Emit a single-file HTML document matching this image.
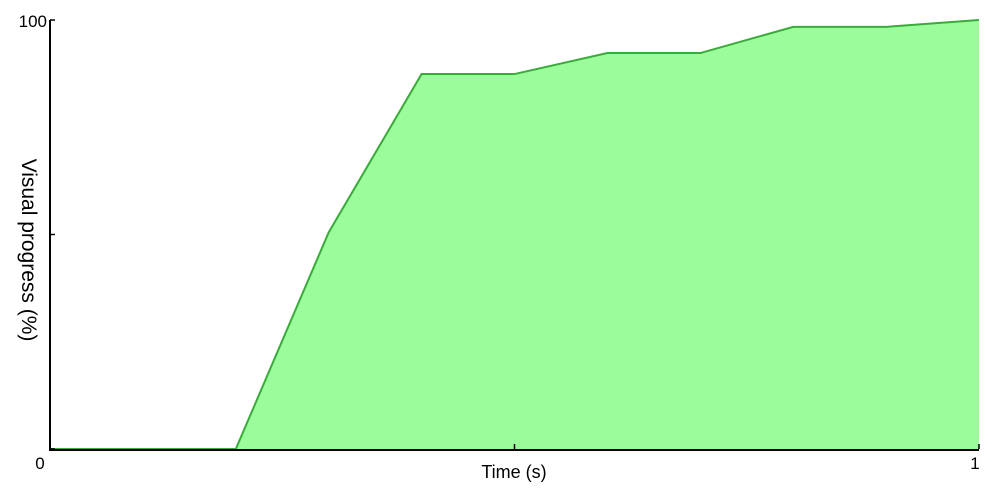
<!DOCTYPE html>
<html><head><meta charset="utf-8"><style>
html,body{margin:0;padding:0;background:#fff;}
svg{display:block;font-family:"Liberation Sans",sans-serif;}
</style></head><body>
<svg width="995" height="493">
<g id="plot"></g>
</svg>
<script>
const times = [0, 0.1, 0.2, 0.3, 0.4, 0.5, 0.6, 0.7, 0.8, 0.9, 1.0];
const progress = [0, 0, 0, 50.5, 87.4, 87.4, 92.3, 92.3, 98.4, 98.4, 100];
const xTickValues = [0, 0.5, 1];
const xTickLabels = ["0", "", "1"];
const yTickValues = [0, 50, 100];
const yTickLabels = ["", "", "100"];

const X0 = 50, X1 = 979, Y0 = 449, Y1 = 20;
const xs = t => X0 + (X1 - X0) * t;
const ys = v => Y0 - (Y0 - Y1) * v / 100;
const NS = "http://www.w3.org/2000/svg";
const g = document.getElementById('plot');
function mk(tag, attrs){ const e = document.createElementNS(NS, tag); for (const k in attrs) e.setAttribute(k, attrs[k]); g.appendChild(e); return e; }

let pts = times.map((t,i)=>xs(t)+','+ys(progress[i])).join(' ');
const area = mk('polygon', {points: xs(times[0])+','+Y0+' '+pts+' '+xs(times[times.length-1])+','+Y0, fill:'#9afc9a', stroke:'none'});


const line = mk('polyline', {points: pts, fill:'none', stroke:'#3aaa3a', 'stroke-width':2});



const ya = mk('line', {x1:X0, y1:Y1, x2:X0, y2:Y0+1, stroke:'#000', 'stroke-width':2});


const xa = mk('line', {x1:X0-1, y1:Y0+1, x2:X1, y2:Y0+1, stroke:'#000', 'stroke-width':2});



xTickValues.forEach((v,i)=>{
  const tk = mk('line', {x1:xs(v), y1:Y0, x2:xs(v), y2:Y0-5, stroke:'#000', 'stroke-width':1.5});
  
  
  if (xTickLabels[i]) {
    const tx = mk('text', {x: xs(v) - (v===0?10:4), y: 469, 'font-size':17, 'text-anchor':'middle'});
    tx.textContent = xTickLabels[i];
    
    
  }
});
yTickValues.forEach((v,i)=>{
  const tk = mk('line', {x1:X0, y1:ys(v), x2:X0+5, y2:ys(v), stroke:'#000', 'stroke-width':1.5});
  
  
  if (yTickLabels[i]) {
    const tx = mk('text', {x: 47, y: ys(v)+7, 'font-size':17, 'text-anchor':'end'});
    tx.textContent = yTickLabels[i];
    
    
  }
});
const xt = mk('text', {x:514, y:478, 'font-size':18, 'text-anchor':'middle'});
xt.textContent = 'Time (s)';


const yt = mk('text', {x:0, y:0, 'font-size':21, 'text-anchor':'middle', transform:'translate(22,250) rotate(90)'});
yt.textContent = 'Visual progress (%)';


</script>
</body></html>
